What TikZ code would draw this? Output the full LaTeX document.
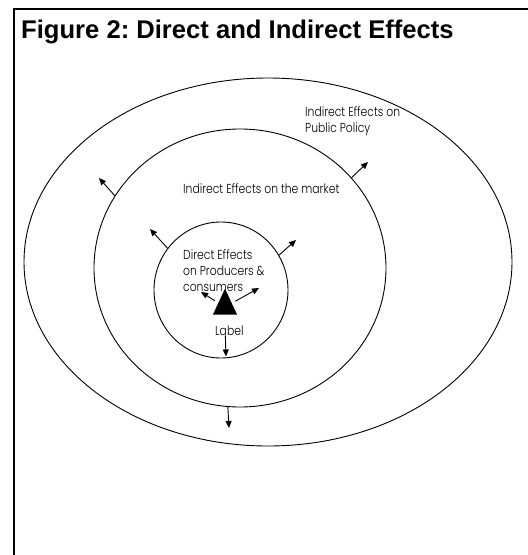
\documentclass[tikz,border=0pt]{standalone}
\usepackage{fontspec}
\setmainfont{Liberation Sans}
\newfontfamily\ringfont[FakeStretch=0.83]{Poppins Light}
\usetikzlibrary{arrows.meta,shapes.geometric}
\frenchspacing
\begin{document}
\begin{tikzpicture}[x=1pt,y=-1pt,
  ring/.style={draw, ellipse, line width=0.9pt, inner sep=0pt},
  push/.style={-{Triangle[length=7pt,width=6pt]}, line width=0.9pt},
  note/.style={font=\ringfont\fontsize{13}{16}\selectfont, inner sep=0pt, align=left}]
\useasboundingbox (0,0) rectangle (528,555);
% frame on the left and top only
\draw[line width=2pt] (14,555) -- (14,9.3) -- (528,9.3);
\node[anchor=base west, inner sep=0pt, font=\bfseries\fontsize{25.6}{30}\selectfont] (title) at (21,38)
  {Figure 2: Direct and Indirect Effects};

% the three rings of effects
\node[ring, minimum width=488pt, minimum height=368pt] (outer) at (268,262) {};
\node[ring, minimum width=292pt, minimum height=278pt] (mid) at (240,268) {};
\node[ring, minimum width=134pt, minimum height=136pt] (inner) at (221,290) {};

% labels
\node[note, anchor=north west] (policy) at (305,106) {Indirect Effects on\\Public Policy};
\node[note, anchor=base west] (market) at (183,193) {Indirect Effects on the market};
\node[note, anchor=north west] (direct) at (183,249) {Direct Effects\\on Producers \&\\consumers};

% the product mark and its label
\node[isosceles triangle, isosceles triangle apex angle=50, shape border rotate=90,
      fill=black, minimum height=26pt, inner sep=0pt] (tri) at (225,307) {};
\node[note, anchor=base west] (lab) at (215,335) {Label};

% arrow ends
\coordinate (h1) at (99,178);
\coordinate (h2) at (150,229);
\coordinate (h3) at (296,240);
\coordinate (h4) at (368,162);
\coordinate (h5) at (229,428);
\coordinate (h6) at (201,292);
\coordinate (h7) at (259,288);

\draw[push] (mid.150) -- (h1);
\draw[push] (inner.142) -- (h2);
\draw[push] (inner.31) -- (h3);
\draw[push] (mid.39) -- (h4);
\draw[push] (mid.265) -- (h5);
\draw[push, shorten <=4pt] (tri) -- (h6);
\draw[push, shorten <=4pt] (tri) -- (h7);
\draw[push, shorten >=2pt] ([xshift=-4pt]lab.south) -- ([xshift=5pt]inner.south);
\end{tikzpicture}
\end{document}
